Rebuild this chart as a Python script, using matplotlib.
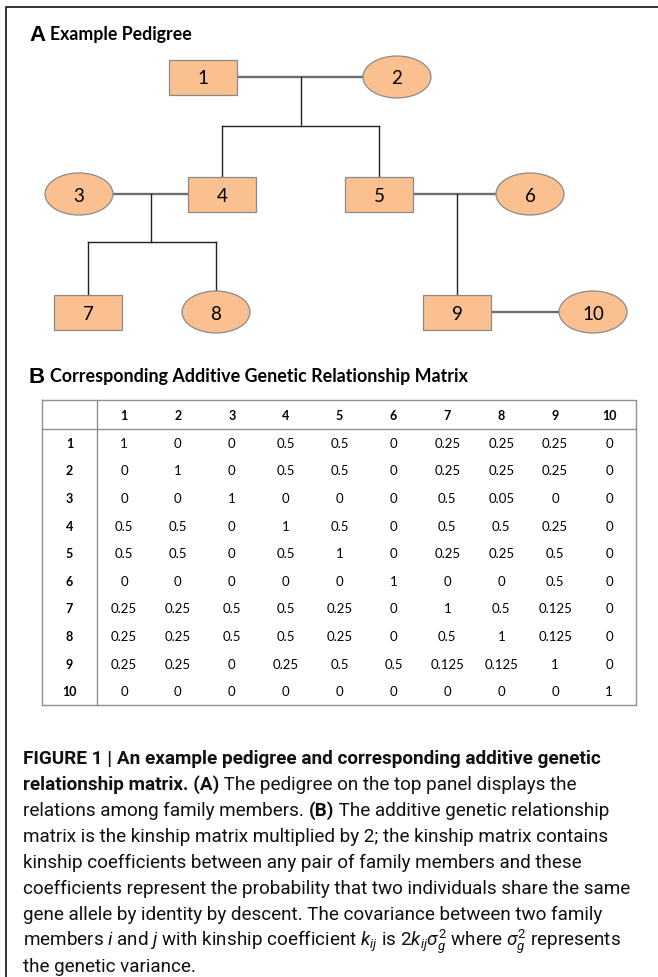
import numpy as np
import matplotlib.pyplot as plt
from matplotlib.patches import Rectangle, Ellipse

# pedigree data
members = [1, 2, 3, 4, 5, 6, 7, 8, 9, 10]
sex = ['M', 'F', 'F', 'M', 'M', 'F', 'M', 'F', 'M', 'F']
couples = [(1, 2), (3, 4), (5, 6), (9, 10)]
children = {(1, 2): [4, 5], (3, 4): [7, 8], (5, 6): [9]}

# additive genetic relationship matrix
col_labels = ['1', '2', '3', '4', '5', '6', '7', '8', '9', '10']
row_labels = ['1', '2', '3', '4', '5', '6', '7', '8', '9', '10']
matrix = [
    ['1', '0', '0', '0.5', '0.5', '0', '0.25', '0.25', '0.25', '0'],
    ['0', '1', '0', '0.5', '0.5', '0', '0.25', '0.25', '0.25', '0'],
    ['0', '0', '1', '0', '0', '0', '0.5', '0.05', '0', '0'],
    ['0.5', '0.5', '0', '1', '0.5', '0', '0.5', '0.5', '0.25', '0'],
    ['0.5', '0.5', '0', '0.5', '1', '0', '0.25', '0.25', '0.5', '0'],
    ['0', '0', '0', '0', '0', '1', '0', '0', '0.5', '0'],
    ['0.25', '0.25', '0.5', '0.5', '0.25', '0', '1', '0.5', '0.125', '0'],
    ['0.25', '0.25', '0.5', '0.5', '0.25', '0', '0.5', '1', '0.125', '0'],
    ['0.25', '0.25', '0', '0.25', '0.5', '0.5', '0.125', '0.125', '1', '0'],
    ['0', '0', '0', '0', '0', '0', '0', '0', '0', '1'],
]

# layout of the pedigree drawing (pixel units)
pos = {1: (203, 78), 2: (397, 78), 3: (79, 195), 4: (222, 195), 5: (379, 195),
       6: (530, 195), 7: (88, 313), 8: (216, 313), 9: (457, 313), 10: (593, 313)}
drop_x = {(1, 2): 301, (3, 4): 151, (5, 6): 457}
sib_y = {(1, 2): 127, (3, 4): 243}
box_w, box_h = 68, 35
ell_w, ell_h = 68, 42
fill = '#FAC090'

cap_font = 'Roboto'
plt.rcParams['mathtext.fontset'] = 'custom'
plt.rcParams['mathtext.rm'] = cap_font
plt.rcParams['mathtext.it'] = cap_font + ':italic'

fig = plt.figure(figsize=(6.58, 9.78), dpi=100)
ax = fig.add_axes([0, 0, 1, 1])
ax.set_xlim(0, 658)
ax.set_ylim(978, 0)
ax.axis('off')
renderer = fig.canvas.get_renderer()

# frame
ax.plot([6, 6, 658], [978, 8, 8], color='#222222', lw=1.3, solid_capstyle='butt')

ax.text(29, 41, 'A', fontsize=16, fontweight='bold', family='Liberation Sans')
ax.text(50, 40, 'Example Pedigree', fontsize=12.8, fontweight='bold', family='Lato')


def half_w(m):
    return (box_w if sex[m - 1] == 'M' else ell_w) / 2


def half_h(m):
    return (box_h if sex[m - 1] == 'M' else ell_h) / 2


# connection lines
for a, b in couples:
    left, right = (a, b) if pos[a][0] < pos[b][0] else (b, a)
    y0 = pos[a][1]
    ax.plot([pos[left][0] + half_w(left), pos[right][0] - half_w(right)], [y0, y0],
            color='#6e6e6e', lw=1.7, zorder=1)
    if (a, b) not in children:
        continue
    mid = drop_x[(a, b)]
    kids = children[(a, b)]
    if len(kids) == 1:
        k = kids[0]
        ax.plot([mid, mid], [y0, pos[k][1] - half_h(k)], color='#222222', lw=1.0, zorder=1)
    else:
        sy = sib_y[(a, b)]
        ax.plot([mid, mid], [y0, sy], color='#222222', lw=1.0, zorder=1)
        xs = [pos[k][0] for k in kids]
        ax.plot([min(xs), max(xs)], [sy, sy], color='#222222', lw=1.0, zorder=1)
        for k in kids:
            ax.plot([pos[k][0], pos[k][0]], [sy, pos[k][1] - half_h(k)],
                    color='#222222', lw=1.0, zorder=1)

# nodes
for m in members:
    x, y = pos[m]
    if sex[m - 1] == 'M':
        p = Rectangle((x - box_w / 2, y - box_h / 2), box_w, box_h,
                      facecolor=fill, edgecolor='#8a8a8a', lw=0.9, zorder=2)
    else:
        p = Ellipse((x, y), ell_w, ell_h, facecolor=fill, edgecolor='#8a8a8a', lw=0.9, zorder=2)
    ax.add_patch(p)
    ax.text(x, y + 1, str(m), ha='center', va='center', fontsize=13.5, family='Lato', zorder=3)

# panel B
ax.text(29, 383, 'B', fontsize=16, fontweight='bold', family='Liberation Sans')
ax.text(50, 382, 'Corresponding Additive Genetic Relationship Matrix', fontsize=12.9,
        fontweight='bold', family='Lato')

tx0, tx1, ty0, ty1 = 42, 636, 401, 706
first_w = 55
head_h = 29
ncol = len(col_labels)
cw = (tx1 - tx0 - first_w) / ncol
rh = (ty1 - ty0 - head_h) / len(row_labels)
grid = '#8f8f8f'
ax.plot([tx0, tx1, tx1, tx0, tx0], [ty0, ty0, ty1, ty1, ty0], color=grid, lw=1.0)
ax.plot([tx0, tx1], [ty0 + head_h, ty0 + head_h], color=grid, lw=1.0)
ax.plot([tx0 + first_w, tx0 + first_w], [ty0, ty1], color=grid, lw=1.0)

for j, lab in enumerate(col_labels):
    ax.text(tx0 + first_w + (j + 0.5) * cw, ty0 + head_h / 2, lab, ha='center', va='center',
            fontsize=9, fontweight='bold', family='Lato')
for i, lab in enumerate(row_labels):
    cy = ty0 + head_h + (i + 0.5) * rh
    ax.text(tx0 + first_w / 2, cy, lab, ha='center', va='center', fontsize=9,
            fontweight='bold', family='Lato')
    for j, val in enumerate(matrix[i]):
        ax.text(tx0 + first_w + (j + 0.5) * cw, cy, val, ha='center', va='center',
                fontsize=9.5, family='Lato')

# caption
cap_lines = [
    [('FIGURE 1 | An example pedigree and corresponding additive genetic', 'bold')],
    [('relationship matrix. (A)', 'bold'), (' The pedigree on the top panel displays the', 'normal')],
    [('relations among family members. ', 'normal'), ('(B)', 'bold'),
     (' The additive genetic relationship', 'normal')],
    [('matrix is the kinship matrix multiplied by 2; the kinship matrix contains', 'normal')],
    [('kinship coefficients between any pair of family members and these', 'normal')],
    [('coefficients represent the probability that two individuals share the same', 'normal')],
    [('gene allele by identity by descent. The covariance between two family', 'normal')],
    [(r'members $i$ and $j$ with kinship coefficient $k_{ij}$ is 2$k_{ij}\sigma_g^2$ where '
      r'$\sigma_g^2$ represents', 'normal')],
    [('the genetic variance.', 'normal')],
]

# fit the font size so the longest regular line spans the reference width
probe = ax.text(0, 0, cap_lines[5][0][0], fontsize=12, family=cap_font)
cap_size = 12 * 608 / probe.get_window_extent(renderer).width
probe.remove()

y = 764
for line in cap_lines:
    x = 23
    for txt, wt in line:
        t = ax.text(x, y, txt, fontsize=cap_size, fontweight=wt, family=cap_font,
                    va='baseline', color='#111111')
        x += t.get_window_extent(renderer).width
    y += 26

fig.savefig('out.png', dpi=100)
